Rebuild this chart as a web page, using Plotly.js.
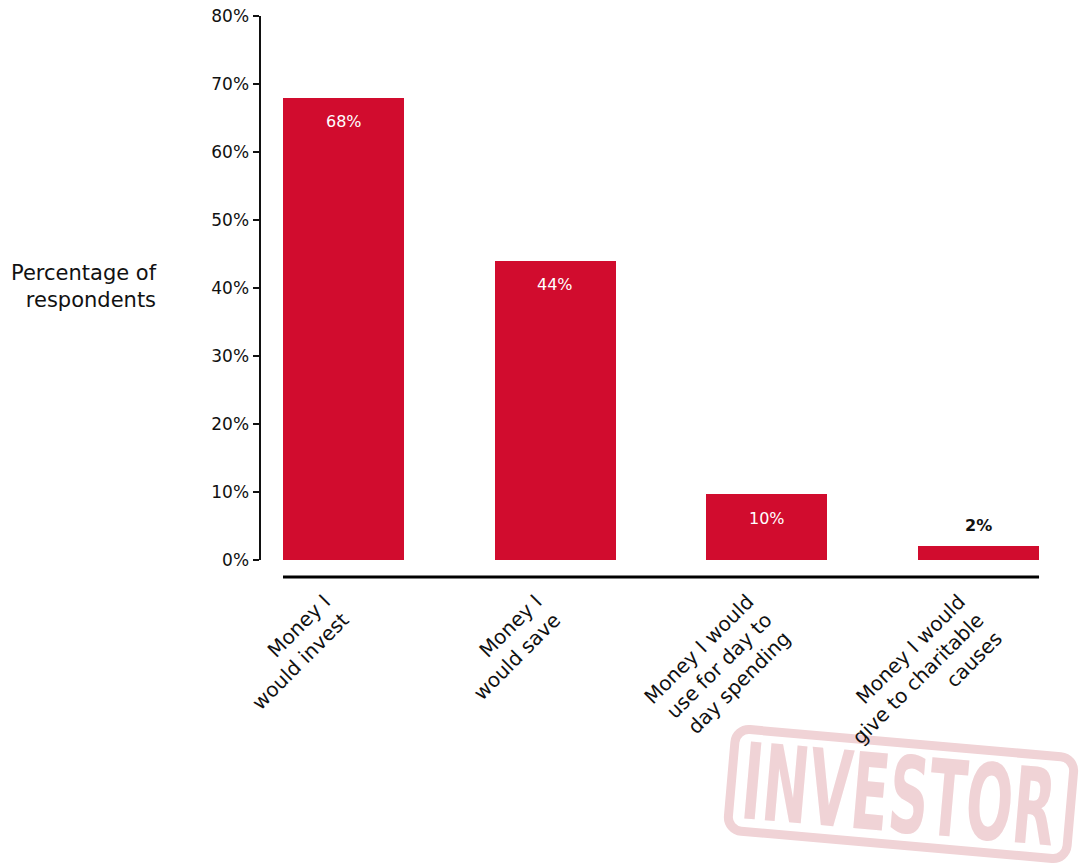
<!DOCTYPE html>
<html><head><meta charset="utf-8">
<script src="https://cdn.plot.ly/plotly-3.0.1.min.js"></script>
<style>html,body{margin:0;padding:0;background:#fff}#chart{width:1080px;height:868px}</style>
</head><body><div id="chart"></div>
<script>
const categories = [
  "Money I<br>would invest",
  "Money I<br>would save",
  "Money I would<br>use for day to<br>day spending",
  "Money I would<br>give to charitable<br>causes"
];
const values = [68, 44, 9.7, 2];
const valueLabels = ["68%", "44%", "10%", "2%"];
const yTickVals = [0, 10, 20, 30, 40, 50, 60, 70, 80];
const yTickText = ["0%", "10%", "20%", "30%", "40%", "50%", "60%", "70%", "80%"];
const yTitle = "Percentage of<br>respondents";
const watermarkText = "INVESTOR";

const FONT = "'DejaVu Sans', Verdana, sans-serif";
const RED = "#d10c2e";
const BAR_W = 0.572;
const LABEL_OFFSET = 0.09;
const idx = categories.map((_, i) => i);

const W = 1080, H = 868;
const M = {l: 261, r: 38, t: 16, b: 308};
const pw = W - M.l - M.r, ph = H - M.t - M.b;
const px = v => (v - M.l) / pw;
const py = v => (H - M.b - v) / ph;

const trace = {
  type: "bar", x: idx, y: values, width: BAR_W,
  marker: {color: RED, line: {width: 0}},
  hoverinfo: "skip"
};

const annotations = [];
values.forEach((v, i) => {
  const inside = v > 5;
  annotations.push({
    x: i, y: v, xref: "x", yref: "y", text: valueLabels[i], showarrow: false,
    yanchor: "middle", yshift: inside ? -24 : 21,
    font: {family: FONT, size: 16, color: inside ? "#ffffff" : "#111111", weight: inside ? 400 : 600}
  });
});
annotations.push({
  x: px(159), y: py(286), xref: "paper", yref: "paper", text: yTitle, showarrow: false,
  xanchor: "right", yanchor: "middle", align: "right",
  font: {family: FONT, size: 21, color: "#111111", weight: 500}
});

const stampSvg =
  '<svg xmlns="http://www.w3.org/2000/svg" width="375" height="163" viewBox="0 0 375 163">' +
  '<g transform="translate(196,89) rotate(5)" fill="none" stroke="#f0d3d6" stroke-width="9">' +
  '<rect x="-170" y="-51" width="340" height="102" rx="14" ry="14"/></g>' +
  '<g transform="translate(196,89) rotate(5)">' +
  '<text x="-2" y="38" text-anchor="middle" textLength="314" lengthAdjust="spacingAndGlyphs" ' +
  'font-family="Liberation Sans Narrow, DejaVu Sans Condensed, sans-serif" font-weight="bold" font-size="106" fill="#f0d3d6">' +
  watermarkText + '</text></g></svg>';

const layout = {
  width: W, height: H,
  margin: M,
  paper_bgcolor: "#ffffff", plot_bgcolor: "#ffffff",
  showlegend: false,
  bargap: 0,
  xaxis: {
    range: [-0.39, 3.3], tickmode: "array", tickvals: idx.map(i => i - LABEL_OFFSET), ticktext: categories,
    tickangle: -45, ticks: "", showline: false, ticklabelstandoff: 25,
    tickfont: {family: FONT, size: 20, color: "#111111"},
    showgrid: false, zeroline: false, fixedrange: true
  },
  yaxis: {
    range: [0, 80], tickmode: "array", tickvals: yTickVals, ticktext: yTickText, ticks: "outside",
    ticklen: 6, tickwidth: 2.5, tickcolor: "#111", showline: true, linewidth: 2.5,
    linecolor: "#111", showgrid: false, zeroline: false,
    tickfont: {family: FONT, size: 17, color: "#111", weight: 500}, fixedrange: true
  },
  shapes: [{
    type: "line", xref: "x", yref: "paper",
    x0: -BAR_W / 2, x1: (categories.length - 1) + BAR_W / 2,
    y0: py(577), y1: py(577), line: {color: "#000", width: 3}
  }],
  images: [{
    source: "data:image/svg+xml;charset=utf-8," + encodeURIComponent(stampSvg),
    xref: "paper", yref: "paper", x: px(705), y: py(705),
    sizex: 375 / pw, sizey: 163 / ph, xanchor: "left", yanchor: "top",
    sizing: "stretch", layer: "below"
  }],
  annotations: annotations
};

Plotly.newPlot("chart", [trace], layout, {displayModeBar: false, staticPlot: true});
</script></body></html>
